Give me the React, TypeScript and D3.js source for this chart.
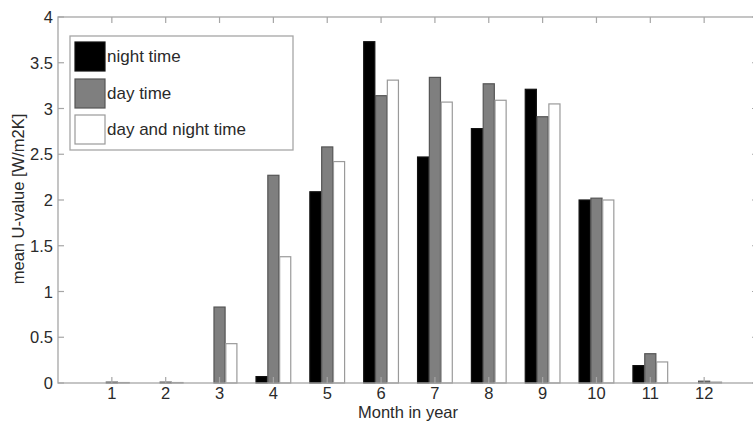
import React, { useRef, useEffect } from "react";
import * as d3 from "d3";

// values
const months = [1, 2, 3, 4, 5, 6, 7, 8, 9, 10, 11, 12];
const nightTime = [0, 0, 0, 0.07, 2.09, 3.73, 2.47, 2.78, 3.21, 2.0, 0.19, 0];
const dayTime = [0.01, 0.01, 0.83, 2.27, 2.58, 3.14, 3.34, 3.27, 2.91, 2.02, 0.32, 0.02];
const dayAndNight = [0.005, 0.005, 0.43, 1.38, 2.42, 3.31, 3.07, 3.09, 3.05, 2.0, 0.23, 0.01];
const seriesNames = ["night time", "day time", "day and night time"];
const seriesFill = ["#000000", "#7f7f7f", "#ffffff"];
const seriesStroke = ["#111111", "#555555", "#9a9a9a"];
const yTicks = [0, 0.5, 1, 1.5, 2, 2.5, 3, 3.5, 4];

const FONT = "'Liberation Sans', Arial, Helvetica, sans-serif";

function App() {
  const svgRef = useRef<SVGSVGElement>(null);

  useEffect(() => {
    const width = 753,
      height = 423;
    const left = 58,
      right = 758,
      top = 17,
      bottom = 383;

    const svg = d3.select(svgRef.current);
    svg.selectAll("*").remove();

    const x = d3.scaleLinear().domain([0, 13]).range([left, right]);
    const y = d3.scaleLinear().domain([0, 4]).range([bottom, top]);
    const series = [nightTime, dayTime, dayAndNight];

    // offsets of the three bars inside one month group
    const inner = d3
      .scaleBand<number>()
      .domain([0, 1, 2])
      .range([-0.3225, 0.3225])
      .paddingInner(0.06);

    svg
      .append("rect")
      .attr("width", width)
      .attr("height", height)
      .attr("fill", "#ffffff");

    // bars
    series.forEach((vals, si) => {
      svg
        .append("g")
        .selectAll("rect")
        .data(months)
        .enter()
        .append("rect")
        .attr("x", (m) => x(m + (inner(si) as number)))
        .attr("width", x(inner.bandwidth()) - x(0))
        .attr("y", (m, i) => y(vals[i]))
        .attr("height", (m, i) => y(0) - y(vals[i]))
        .attr("fill", seriesFill[si])
        .attr("stroke", seriesStroke[si])
        .attr("stroke-width", 1.2);
    });

    const axisColor = "#a6a6a6";
    const textColor = "#2a2a2a";

    // axes box
    svg
      .append("rect")
      .attr("x", left)
      .attr("y", top)
      .attr("width", right - left)
      .attr("height", bottom - top)
      .attr("fill", "none")
      .attr("stroke", axisColor)
      .attr("stroke-width", 1.3);

    // ticks point inwards on all four sides
    const tk = svg.append("g").attr("stroke", axisColor).attr("stroke-width", 1.2);
    months.forEach((m) => {
      tk.append("line").attr("x1", x(m)).attr("x2", x(m)).attr("y1", bottom).attr("y2", bottom - 6);
      tk.append("line").attr("x1", x(m)).attr("x2", x(m)).attr("y1", top).attr("y2", top + 6);
    });
    yTicks.forEach((v) => {
      tk.append("line").attr("x1", left).attr("x2", left + 6).attr("y1", y(v)).attr("y2", y(v));
      tk.append("line").attr("x1", right).attr("x2", right - 6).attr("y1", y(v)).attr("y2", y(v));
    });

    // tick labels
    svg
      .append("g")
      .selectAll("text")
      .data(months)
      .enter()
      .append("text")
      .attr("x", (m) => x(m))
      .attr("y", 399)
      .attr("text-anchor", "middle")
      .attr("font-family", FONT)
      .attr("font-size", 16.5)
      .attr("fill", textColor)
      .text((m) => String(m));

    svg
      .append("g")
      .selectAll("text")
      .data(yTicks)
      .enter()
      .append("text")
      .attr("x", 53)
      .attr("y", (v) => y(v) + 6)
      .attr("text-anchor", "end")
      .attr("font-family", FONT)
      .attr("font-size", 16.5)
      .attr("fill", textColor)
      .text((v) => String(v));

    // axis titles
    svg
      .append("text")
      .attr("x", x(6.5))
      .attr("y", 418)
      .attr("text-anchor", "middle")
      .attr("font-family", FONT)
      .attr("font-size", 16.5)
      .attr("fill", textColor)
      .text("Month in year");

    svg
      .append("text")
      .attr("transform", "translate(24,199) rotate(-90)")
      .attr("text-anchor", "middle")
      .attr("font-family", FONT)
      .attr("font-size", 16.5)
      .attr("fill", textColor)
      .text("mean U-value [W/m2K]");

    // legend
    const lg = svg.append("g");
    lg.append("rect")
      .attr("x", 70)
      .attr("y", 36)
      .attr("width", 223)
      .attr("height", 114)
      .attr("fill", "#ffffff")
      .attr("stroke", axisColor)
      .attr("stroke-width", 1.3);
    const rowY = [42, 79, 115];
    seriesNames.forEach((name, si) => {
      lg.append("rect")
        .attr("x", 75)
        .attr("y", rowY[si])
        .attr("width", 30)
        .attr("height", 29)
        .attr("fill", seriesFill[si])
        .attr("stroke", seriesStroke[si])
        .attr("stroke-width", 1.2);
      lg.append("text")
        .attr("x", 107)
        .attr("y", rowY[si] + 20)
        .attr("font-family", FONT)
        .attr("font-size", 17)
        .attr("fill", textColor)
        .text(name);
    });
  }, []);

  return (
    <React.Fragment>
      <svg
        ref={svgRef}
        width={753}
        height={423}
        style={{ position: "absolute", left: 0, top: 0 }}
      ></svg>
    </React.Fragment>
  );
}

export default App;
